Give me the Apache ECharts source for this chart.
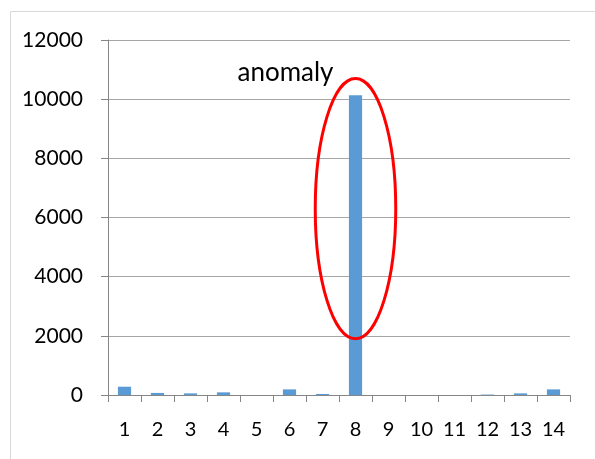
<!DOCTYPE html>
<html><head><meta charset="utf-8">
<script src="https://cdn.jsdelivr.net/npm/echarts@6/dist/echarts.min.js"></script>
<style>html,body{margin:0;padding:0;background:#fff}#c{width:595px;height:459px}</style>
</head><body><div id="c"></div>
<script>
const categories = ['1','2','3','4','5','6','7','8','9','10','11','12','13','14'];
const values = [280, 70, 55, 90, 0, 190, 35, 10130, 0, 0, 0, 15, 55, 190];
const yTicks = [0, 2000, 4000, 6000, 8000, 10000, 12000];
const annotationText = 'anomaly';
const anomalyIndex = 7;
const ellipseCenterValue = 6300;
const ellipseHalfHeightValue = 4400;
const ellipseHalfWidthCats = 1.22;

const FONT = 'Lato';
const chart = echarts.init(document.getElementById('c'), null, {renderer: 'canvas'});
chart.setOption({
  animation: false,
  backgroundColor: '#fff',
  grid: {left: 108, right: 25, top: 40, bottom: 64, containLabel: false},
  xAxis: {
    type: 'category', data: categories, boundaryGap: true,
    axisLine: {show: true, lineStyle: {color: '#868686', width: 1}},
    axisTick: {show: true, length: 7, alignWithLabel: false, lineStyle: {color: '#868686'}},
    axisLabel: {margin: 25, fontSize: 20, fontFamily: FONT, color: '#000'},
    splitLine: {show: false}
  },
  yAxis: {
    type: 'value', min: yTicks[0], max: yTicks[yTicks.length-1], interval: yTicks[1]-yTicks[0],
    axisLine: {show: true, lineStyle: {color: '#868686', width: 1}},
    axisTick: {show: true, length: 7, lineStyle: {color: '#868686'}},
    axisLabel: {margin: 25, fontSize: 21, fontFamily: FONT, color: '#000', formatter: v => String(v)},
    splitLine: {show: true, lineStyle: {color: '#A6A6A6', width: 1}}
  },
  series: [{
    type: 'bar', data: values, barWidth: '40%',
    itemStyle: {color: '#5B9BD5'}
  }]
});

const c = chart.convertToPixel({xAxisIndex:0, yAxisIndex:0}, [anomalyIndex, ellipseCenterValue]);
const t = chart.convertToPixel({xAxisIndex:0, yAxisIndex:0}, [anomalyIndex, ellipseCenterValue + ellipseHalfHeightValue]);
const catW = chart.convertToPixel({xAxisIndex:0}, 1) - chart.convertToPixel({xAxisIndex:0}, 0);
const ry = c[1] - t[1];
const rx = catW * ellipseHalfWidthCats;
chart.setOption({
  graphic: [
    {type: 'rect', left: 8, top: 9, shape: {x: 0, y: 0, width: 700, height: 600},
     style: {fill: 'none', stroke: '#D9D9D9', lineWidth: 1}, silent: true},
    {type: 'ellipse', shape: {cx: c[0], cy: c[1], rx: rx, ry: ry},
     style: {fill: 'none', stroke: '#FF0000', lineWidth: 3}, z: 10},
    {type: 'text', x: c[0] - 22, y: t[1] - 6,
     style: {text: annotationText, fontSize: 26, fontFamily: FONT, fill: '#000', textAlign: 'right', textVerticalAlign: 'middle'}, z: 10}
  ]
});
</script></body></html>
